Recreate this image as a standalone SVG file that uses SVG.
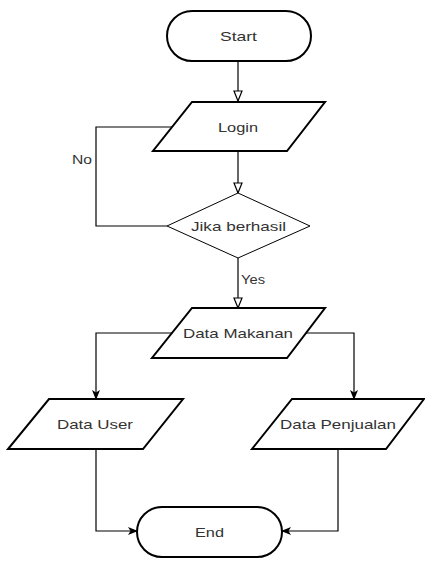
<svg xmlns="http://www.w3.org/2000/svg" width="425" height="568" viewBox="0 0 425 568">
<style>
.shape{fill:#fff;stroke:#000;stroke-width:2}
.conn{fill:none;stroke:#000;stroke-width:1.2}
.t{font-family:"Liberation Sans",Arial,sans-serif;font-size:13px;fill:#333;text-anchor:middle;dominant-baseline:central}
.lbl{font-family:"Liberation Sans",Arial,sans-serif;font-size:12px;fill:#333}
</style>
<defs>
<marker id="open" viewBox="0 0 12 10" refX="11" refY="5" markerWidth="12" markerHeight="10" markerUnits="userSpaceOnUse" orient="auto">
<path d="M1,1 L11,5 L1,9 Z" fill="#fff" stroke="#000" stroke-width="1.2"/>
</marker>
<marker id="fill" viewBox="0 0 10 8" refX="9" refY="4" markerWidth="10" markerHeight="8" markerUnits="userSpaceOnUse" orient="auto">
<path d="M0,0 L10,4 L0,8 L2.5,4 Z" fill="#000"/>
</marker>
</defs>
<g id="connectors">
<path class="conn" d="M238,61 L238,101" marker-end="url(#open)"/>
<path class="conn" d="M238,151 L238,193" marker-end="url(#open)"/>
<path class="conn" d="M167,226 L96,226 L96,127 L173,127"/>
<path class="conn" d="M238,258 L238,308" marker-end="url(#open)"/>
<path class="conn" d="M172,333 L96,333 L96,399" marker-end="url(#fill)"/>
<path class="conn" d="M306,333 L354,333 L354,399" marker-end="url(#fill)"/>
<path class="conn" d="M96,449 L96,531 L137,531" marker-end="url(#fill)"/>
<path class="conn" d="M338,449 L338,531 L282,531" marker-end="url(#fill)"/>
<text class="lbl" x="72" y="164" textLength="20" lengthAdjust="spacingAndGlyphs">No</text>
<text class="lbl" x="241" y="284" textLength="24" lengthAdjust="spacingAndGlyphs">Yes</text>
</g>
<g id="start">
<rect class="shape" x="167" y="11" width="144" height="50" rx="25" ry="25"/>
<text class="t" x="238.5" y="36" textLength="37" lengthAdjust="spacingAndGlyphs">Start</text>
</g>
<g id="login">
<polygon class="shape" points="192,102 325,102 287,151 153,151"/>
<text class="t" x="238" y="127" textLength="40" lengthAdjust="spacingAndGlyphs">Login</text>
</g>
<g id="decision">
<polygon class="shape" points="238,193 310,226 238,258 167,226" style="stroke-width:1"/>
<text class="t" x="238.5" y="226" textLength="95" lengthAdjust="spacingAndGlyphs">Jika berhasil</text>
</g>
<g id="data-makanan">
<polygon class="shape" points="192,308 325,308 287,358 152,358"/>
<text class="t" x="238" y="333" textLength="110" lengthAdjust="spacingAndGlyphs">Data Makanan</text>
</g>
<g id="data-user">
<polygon class="shape" points="49,399 183,399 143,449 8,449"/>
<text class="t" x="95" y="424" textLength="76" lengthAdjust="spacingAndGlyphs">Data User</text>
</g>
<g id="data-penjualan">
<polygon class="shape" points="292,399 424,399 386,449 252,449"/>
<text class="t" x="338" y="424" textLength="116" lengthAdjust="spacingAndGlyphs">Data Penjualan</text>
</g>
<g id="end">
<rect class="shape" x="137" y="507" width="145" height="50" rx="25" ry="25"/>
<text class="t" x="209.5" y="532" textLength="29" lengthAdjust="spacingAndGlyphs">End</text>
</g>
</svg>
